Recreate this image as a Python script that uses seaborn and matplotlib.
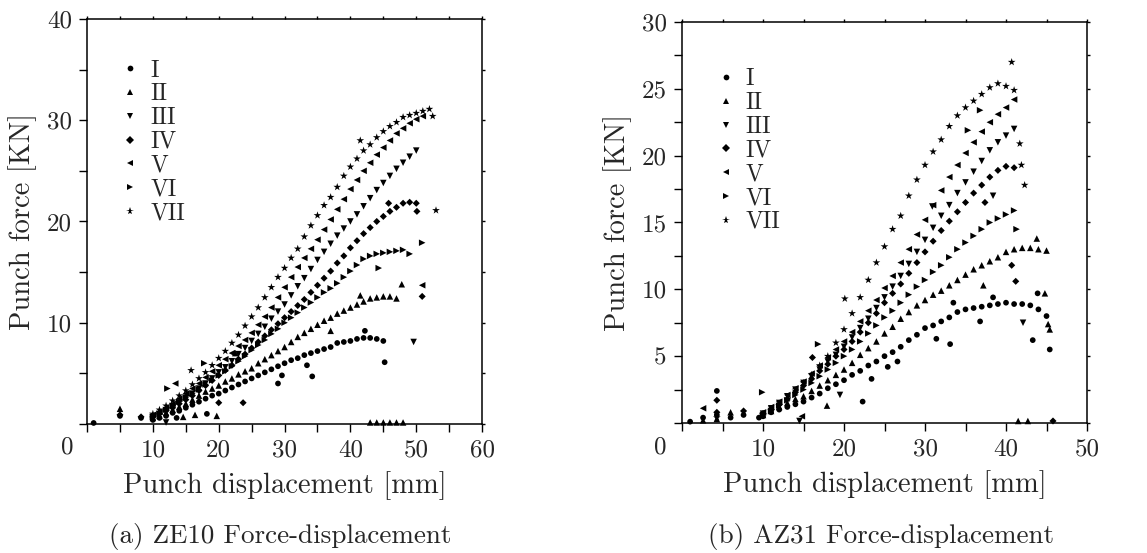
import pandas as pd
import matplotlib
matplotlib.use('Agg')
import matplotlib.pyplot as plt
from matplotlib.ticker import MultipleLocator
import seaborn as sns

# ----------------------------
# DATA (displacement [mm], force [KN])
# ----------------------------
# (a) ZE10
ze_I_x = [1.0, 5.0, 8.2, 10, 11, 12, 13, 14, 15, 16, 17, 18, 19, 20, 21, 22, 23, 24, 25, 26, 27, 28, 29,
          30, 31, 32, 33, 34, 35, 36, 37, 38, 39, 40, 41, 42, 43, 44, 45,
          29.0, 29.6, 33.4, 34.2, 45.2, 42.2, 18.2, 13.6]
ze_I_y = [0.1, 0.8, 0.6, 0.4, 0.6, 0.8, 1.1, 1.3, 1.6, 1.9, 2.2, 2.5, 2.8, 3.0, 3.3, 3.6, 3.9, 4.2, 4.5, 4.8,
          5.1, 5.4, 5.7, 6.0, 6.3, 6.5, 6.8, 7.0, 7.2, 7.4, 7.6, 8.0, 8.1, 8.2, 8.4, 8.5, 8.5, 8.4, 8.2,
          4.0, 4.8, 5.8, 4.7, 6.1, 9.2, 1.0, 0.6]

ze_II_x = [5.0, 10, 11, 12, 13, 14, 15, 16, 17, 18, 19, 20, 21, 22, 23, 24, 25, 26, 27, 28, 29, 30, 31, 32,
           33, 34, 35, 36, 37, 38, 39, 40, 41, 42, 43, 44, 45, 46, 47,
           14.6, 16.4, 19.7, 22.5, 37.0, 41.5, 47.8, 43, 44, 45, 46, 47, 48]
ze_II_y = [1.5, 0.6, 0.8, 1.1, 1.4, 1.7, 2.0, 2.4, 2.8, 3.2, 3.5, 3.8, 4.2, 4.5, 4.9, 5.2, 5.5, 6.0, 6.4,
           6.8, 7.2, 7.6, 8.1, 8.6, 9.0, 9.4, 9.8, 10.2, 10.5, 10.9, 11.2, 11.5, 11.8, 12.1, 12.4, 12.5,
           12.6, 12.6, 12.4,
           0.7, 0.9, 0.8, 7.0, 9.2, 12.7, 13.8, 0.15, 0.15, 0.15, 0.15, 0.15, 0.15]

ze_III_x = [12, 10, 11, 12, 13, 14, 15, 16, 17, 18, 19, 20, 21, 22, 23, 24, 25, 26, 27, 28, 29, 30, 31, 32,
            33, 34, 35, 36, 37, 38, 39, 40, 41, 42, 43, 44, 45, 46, 47, 48, 49, 50, 49.6]
ze_III_y = [0.15, 0.7, 1.0, 1.3, 1.7, 2.1, 2.6, 3.0, 3.5, 4.0, 4.5, 5.1, 5.6, 6.2, 6.9, 7.5, 8.2, 8.9, 9.6,
            10.4, 11.1, 11.8, 12.7, 13.6, 14.4, 15.3, 16.2, 17.0, 17.8, 18.6, 19.3, 20.0, 20.7, 21.5,
            22.3, 23.1, 23.8, 24.5, 25.2, 25.8, 26.4, 27.0, 8.1]

ze_IV_x = [5.0, 8.2, 10, 11, 12, 13, 14, 15, 16, 17, 18, 19, 20, 21, 22, 23, 24, 25, 26, 27, 28, 29, 30,
           31, 32, 33, 34, 35, 36, 37, 38, 39, 40, 41, 42, 43, 44, 45, 46, 47, 48, 49, 50,
           20.0, 23.7, 45.8, 50.1, 50.9]
ze_IV_y = [0.9, 0.7, 0.7, 1.0, 1.3, 1.6, 2.0, 2.4, 2.8, 3.3, 3.8, 4.3, 4.8, 5.3, 5.8, 6.4, 6.9, 7.5, 8.1,
           8.7, 9.3, 9.9, 10.5, 11.1, 11.7, 12.3, 13.0, 13.7, 14.4, 15.1, 15.9, 16.6, 17.4, 18.1, 18.8,
           19.4, 20.0, 20.5, 21.0, 21.4, 21.8, 21.9, 21.8,
           2.1, 2.1, 21.8, 21.0, 12.6]

ze_V_x = [13.4, 10, 11, 12, 13, 14, 15, 16, 17, 18, 19, 20, 21, 22, 23, 24, 25, 26, 27, 28, 29, 30, 31,
          32, 33, 34, 35, 36, 37, 38, 39, 40, 41, 42, 43, 44, 45, 46, 47, 48, 49, 50, 51, 50.9]
ze_V_y = [4.0, 0.9, 1.2, 1.6, 2.0, 2.5, 3.0, 3.5, 4.0, 4.6, 5.2, 5.8, 6.4, 7.0, 7.7, 8.3, 9.0, 9.8, 10.6,
          11.5, 12.5, 13.5, 14.5, 15.5, 16.4, 17.3, 18.2, 19.2, 20.2, 21.2, 22.2, 23.2, 24.1, 25.0,
          25.8, 26.6, 27.3, 28.0, 28.7, 29.2, 29.7, 30.1, 30.4, 13.7]

ze_VI_x = [12.2, 17.8, 10, 11, 12, 13, 14, 15, 16, 17, 18, 19, 20, 21, 22, 23, 24, 25, 26, 27, 28, 29,
           30, 31, 32, 33, 34, 35, 36, 37, 38, 39, 40, 41, 42, 43, 44, 45, 46, 47, 48, 49, 50.9, 44.3]
ze_VI_y = [3.5, 6.0, 0.7, 1.0, 1.4, 1.8, 2.2, 2.6, 3.0, 3.4, 3.9, 4.3, 4.8, 5.2, 5.7, 6.2, 6.7, 7.3,
           7.8, 8.3, 8.9, 9.4, 10.0, 10.5, 11.0, 11.5, 12.0, 12.5, 13.0, 13.4, 13.9, 14.5, 15.1, 15.7,
           16.3, 16.6, 16.8, 16.9, 17.0, 17.1, 17.2, 16.8, 17.9, 15.4]

ze_VII_x = [15.8, 10, 11, 12, 13, 14, 15, 16, 17, 18, 19, 20, 21, 22, 23, 24, 25, 26, 27, 28, 29, 30,
            31, 32, 33, 34, 35, 36, 37, 38, 39, 40, 41, 42, 43, 44, 45, 46, 47, 48, 49, 50, 51, 52,
            53.0, 52.5, 41.5]
ze_VII_y = [5.3, 1.0, 1.4, 1.8, 2.3, 2.8, 3.3, 3.9, 4.5, 5.1, 5.8, 6.5, 7.2, 8.0, 8.8, 9.7, 10.6, 11.5,
            12.5, 13.5, 14.5, 15.4, 16.4, 17.3, 18.5, 19.6, 20.6, 21.6, 22.4, 23.4, 24.5, 25.4, 26.2,
            27.0, 27.6, 28.3, 28.9, 29.4, 29.8, 30.3, 30.5, 30.7, 30.9, 31.1,
            21.1, 30.4, 28.0]

# (b) AZ31
az_I_x = [1.0, 2.6, 4.3, 4.3, 6.0, 7.6, 9.5, 10, 11, 12, 13, 14, 15, 16, 17, 18, 19, 20, 21, 22, 23, 24,
          25, 26, 27, 28, 29, 30, 31, 32, 33, 34, 35, 36, 37, 38, 39, 40, 41, 42, 43, 44, 45,
          45.4, 43.3, 33.1, 31.4, 36.8, 38.4, 33.5, 43.9, 23.4, 22.3, 26.6, 25.4]
az_I_y = [0.1, 0.4, 2.4, 0.6, 0.4, 0.6, 0.4, 0.5, 0.8, 1.0, 1.2, 1.4, 1.6, 1.9, 2.2, 2.6, 2.9, 3.2, 3.6,
          3.9, 4.3, 4.6, 5.0, 5.3, 5.7, 6.2, 6.6, 7.1, 7.3, 7.6, 7.9, 8.3, 8.5, 8.6, 8.7, 8.8, 8.9, 9.0,
          8.9, 8.9, 8.8, 8.5, 8.0,
          5.5, 6.2, 5.9, 6.3, 7.6, 9.4, 9.0, 9.7, 3.3, 1.6, 4.6, 4.2]

az_II_x = [2.6, 4.3, 6.0, 10, 11, 12, 13, 14, 15, 16, 17, 18, 19, 20, 21, 22, 23, 24, 25, 26, 27, 28, 29,
           30, 31, 32, 33, 34, 35, 36, 37, 38, 39, 40, 41, 42, 43, 44, 45,
           43.8, 44.8, 37.2, 17.9, 45.2, 45.4, 41.5, 42.7]
az_II_y = [0.2, 0.3, 0.8, 0.6, 0.9, 1.2, 1.5, 1.8, 2.0, 2.4, 2.8, 3.2, 3.6, 4.0, 4.5, 5.1, 5.6, 6.1, 6.7,
           7.2, 7.8, 8.3, 8.8, 9.2, 9.6, 9.9, 10.3, 10.7, 11.1, 11.5, 11.8, 12.1, 12.4, 12.8, 13.0, 13.1,
           13.1, 13.0, 12.9,
           13.8, 9.7, 10.3, 1.3, 7.4, 7.0, 0.15, 0.15]

az_III_x = [14.5, 10, 11, 12, 13, 14, 15, 16, 17, 18, 19, 20, 21, 22, 23, 24, 25, 26, 27, 28, 29, 30, 31,
            32, 33, 34, 35, 36, 37, 38, 39, 40, 41, 30.9, 38.4, 42.1, 19.5]
az_III_y = [0.15, 0.7, 1.1, 1.5, 2.0, 2.5, 3.0, 3.5, 4.0, 4.6, 5.1, 5.7, 6.4, 7.1, 7.8, 8.6, 9.4, 10.2,
            11.0, 11.9, 12.8, 13.7, 14.6, 15.5, 16.3, 17.2, 18.0, 18.8, 19.6, 20.4, 21.0, 21.5, 22.0,
            16.2, 17.0, 7.5, 2.1]

az_IV_x = [4.3, 4.3, 7.6, 10, 11, 12, 13, 14, 15, 16, 17, 18, 19, 20, 21, 22, 23, 24, 25, 26, 27, 28, 29,
           30, 31, 32, 33, 34, 35, 36, 37, 38, 39, 40, 41, 37.4, 41.2, 40.7, 16.1, 45.8]
az_IV_y = [1.7, 0.8, 0.9, 0.7, 1.0, 1.4, 1.8, 2.3, 2.8, 3.3, 3.9, 4.4, 5.0, 5.5, 6.1, 6.8, 7.5, 8.2, 9.0,
           9.7, 10.4, 11.2, 12.0, 12.8, 13.6, 14.4, 15.1, 15.8, 16.5, 17.2, 17.8, 18.4, 18.9, 19.2, 19.1,
           16.5, 10.6, 11.8, 4.9, 0.15]

az_V_x = [2.6, 14.8, 10, 11, 12, 13, 14, 15, 16, 17, 18, 19, 20, 21, 22, 23, 24, 25, 26, 27, 28, 29, 30,
          31, 32, 33, 34, 35, 36, 37, 38, 39, 40, 41]
az_V_y = [1.1, 0.5, 0.8, 1.2, 1.6, 2.1, 2.6, 3.1, 3.7, 4.3, 4.9, 5.5, 6.1, 6.8, 7.6, 8.4, 9.2, 10.1, 11.0,
          12.0, 13.0, 14.1, 15.2, 16.3, 17.4, 18.4, 19.3, 20.2, 21.0, 21.8, 22.5, 23.1, 23.6, 24.2]

az_VI_x = [9.9, 16.8, 10, 11, 12, 13, 14, 15, 16, 17, 18, 19, 20, 21, 22, 23, 24, 25, 26, 27, 28, 29, 30,
           31, 32, 33, 34, 35, 36, 37, 38, 39, 40, 41, 35.3, 36.8, 41.3]
az_VI_y = [2.3, 5.9, 0.6, 0.9, 1.3, 1.7, 2.1, 2.5, 3.0, 3.5, 4.0, 4.5, 5.0, 5.5, 6.1, 6.7, 7.3, 7.9, 8.4,
           9.0, 9.6, 10.2, 10.7, 11.3, 11.8, 12.4, 13.0, 13.5, 14.0, 14.5, 15.0, 15.3, 15.6, 15.9,
           21.9, 23.4, 14.5]

az_VII_x = [4.3, 10, 11, 12, 13, 14, 15, 16, 17, 18, 19, 20, 21, 22, 23, 24, 25, 26, 27, 28, 29, 30, 31,
            32, 33, 34, 35, 36, 37, 38, 39, 40, 41, 40.7, 41.7, 41.9, 42.3, 20.1]
az_VII_y = [0.4, 0.6, 0.9, 1.3, 1.8, 2.4, 3.0, 3.6, 4.3, 5.0, 6.0, 7.0, 8.2, 9.4, 10.7, 12.0, 13.2, 14.5,
            15.5, 17.0, 18.2, 19.3, 20.3, 21.2, 22.2, 23.0, 23.6, 24.1, 24.6, 25.1, 25.4, 25.2, 24.9,
            27.0, 20.9, 19.3, 17.8, 9.3]

series = ['I', 'II', 'III', 'IV', 'V', 'VI', 'VII']
markers = {'I': 'o', 'II': '^', 'III': 'v', 'IV': 'D', 'V': '<', 'VI': '>', 'VII': '*'}
sizes = {'I': 17, 'II': 22, 'III': 22, 'IV': 13, 'V': 22, 'VI': 22, 'VII': 34}


def make_frame(pairs):
    frames = []
    for name, (xs, ys) in zip(series, pairs):
        assert len(xs) == len(ys), name
        frames.append(pd.DataFrame({'disp': xs, 'force': ys, 'series': name}))
    return pd.concat(frames, ignore_index=True)


df_ze = make_frame([(ze_I_x, ze_I_y), (ze_II_x, ze_II_y), (ze_III_x, ze_III_y), (ze_IV_x, ze_IV_y),
                    (ze_V_x, ze_V_y), (ze_VI_x, ze_VI_y), (ze_VII_x, ze_VII_y)])
df_az = make_frame([(az_I_x, az_I_y), (az_II_x, az_II_y), (az_III_x, az_III_y), (az_IV_x, az_IV_y),
                    (az_V_x, az_V_y), (az_VI_x, az_VI_y), (az_VII_x, az_VII_y)])

# ----------------------------
# STYLE
# ----------------------------
sns.set_style('ticks')
plt.rcParams['font.family'] = ['cmr10', 'DejaVu Serif']
plt.rcParams['mathtext.fontset'] = 'cm'
plt.rcParams['axes.formatter.use_mathtext'] = True
plt.rcParams['axes.edgecolor'] = 'black'
plt.rcParams['axes.linewidth'] = 1.1

fig = plt.figure(figsize=(11.47, 5.53), dpi=100)
ax1 = fig.add_axes([0.0759, 0.2333, 0.3444, 0.7324])
ax2 = fig.add_axes([0.5946, 0.2351, 0.3531, 0.7251])


def draw_panel(ax, df, xmax, ymax, ystep, caption, cap_x, zero_x, leg_anchor):
    sns.scatterplot(data=df, x='disp', y='force', style='series', size='series', markers=markers,
                    sizes=sizes, color='black', linewidth=0, ax=ax, clip_on=False)
    ax.set_xlim(0, xmax)
    ax.set_ylim(0, ymax)
    ax.xaxis.set_major_locator(MultipleLocator(10))
    ax.xaxis.set_minor_locator(MultipleLocator(5))
    ax.yaxis.set_major_locator(MultipleLocator(ystep))
    ax.yaxis.set_minor_locator(MultipleLocator(ystep / 2))
    ax.set_xticklabels(['' if t == 0 else f'{t:g}' for t in ax.get_xticks()])
    ax.set_yticklabels(['' if t == 0 else f'{t:g}' for t in ax.get_yticks()])
    ax.tick_params(which='both', direction='out', length=6, width=1, labelsize=18, color='black', pad=5)
    ax.tick_params(which='both', top=True, right=True)
    for t in ax.xaxis.get_ticklines(minor=False)[1::2] + ax.xaxis.get_ticklines(minor=True)[1::2]:
        t.set_markersize(2)
    for t in ax.yaxis.get_ticklines(minor=False)[1::2] + ax.yaxis.get_ticklines(minor=True)[1::2]:
        t.set_markersize(2)
    ax.set_xlabel('Punch displacement [mm]', fontsize=20.5, labelpad=7)
    ax.set_ylabel('Punch force [KN]', fontsize=20.5, labelpad=7)
    for s in ax.spines.values():
        s.set_color('black')
    ax.legend(loc='upper left', bbox_to_anchor=leg_anchor, frameon=False, fontsize=17,
              handlelength=0.6, handletextpad=0.55, labelspacing=0.07, borderpad=0, borderaxespad=0)
    fig.text(zero_x, 1 - 447 / 553, '0', fontsize=18, ha='center', va='center')
    fig.text(cap_x, 1 - 537 / 553, caption, fontsize=19.5, ha='center', va='center')


draw_panel(ax1, df_ze, 60, 40, 10, '(a) ZE10 Force-displacement', 280 / 1147, 67 / 1147, (0.092, 0.9))
draw_panel(ax2, df_az, 50, 30, 5, '(b) AZ31 Force-displacement', 881 / 1147, 660 / 1147, (0.09, 0.885))

fig.savefig('out.png', dpi=100)
